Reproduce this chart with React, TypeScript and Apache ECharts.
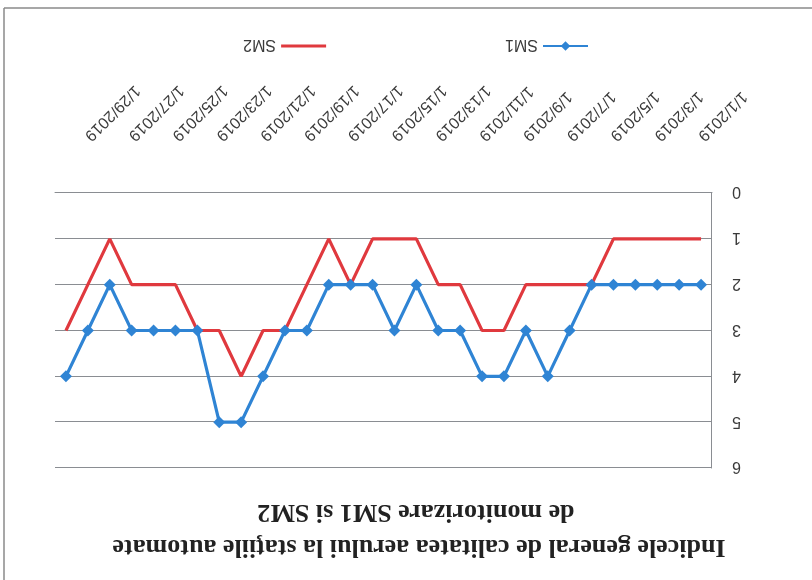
import React, { useEffect, useRef } from "react";
import * as echarts from "echarts";

const dates = [
  "1/1/2019", "1/2/2019", "1/3/2019", "1/4/2019", "1/5/2019", "1/6/2019",
  "1/7/2019", "1/8/2019", "1/9/2019", "1/10/2019", "1/11/2019", "1/12/2019",
  "1/13/2019", "1/14/2019", "1/15/2019", "1/16/2019", "1/17/2019", "1/18/2019",
  "1/19/2019", "1/20/2019", "1/21/2019", "1/22/2019", "1/23/2019", "1/24/2019",
  "1/25/2019", "1/26/2019", "1/27/2019", "1/28/2019", "1/29/2019", "1/30/2019",
];

const sm1 = [2, 2, 2, 2, 2, 2, 3, 4, 3, 4, 4, 3, 3, 2, 3, 2, 2, 2, 3, 3, 4, 5, 5, 3, 3, 3, 3, 2, 3, 4];
const sm2 = [1, 1, 1, 1, 1, 2, 2, 2, 2, 3, 3, 2, 2, 1, 1, 1, 2, 1, 2, 3, 3, 4, 3, 3, 2, 2, 2, 1, 2, 3];

const titleLine1 = "Indicele general de calitatea aerului la staţiile automate";
const titleLine2 = "de monitorizare SM1 si SM2";

export default function App() {
  const ref = useRef<HTMLDivElement>(null);

  useEffect(() => {
    if (!ref.current) return;
    const chart = echarts.init(ref.current, null, { renderer: "svg" });
    const labelColor = "#3a3a3a";
    const gridColor = "#8a8d92";
    chart.setOption({
      animation: false,
      backgroundColor: "#ffffff",
      grid: { left: 100, right: 55, top: 112, bottom: 193 },
      legend: {
        left: 218,
        top: 521,
        itemWidth: 45,
        itemHeight: 12,
        itemGap: 179,
        textStyle: { fontFamily: "Liberation Sans", fontSize: 16, color: labelColor },
        data: [
          { name: "SM1" },
          { name: "SM2", icon: "path://M0,0H45V3H0Z" },
        ],
      },
      xAxis: {
        type: "category",
        data: dates,
        boundaryGap: true,
        axisLine: { show: true, lineStyle: { color: gridColor, width: 1 } },
        axisTick: { show: false },
        axisLabel: {
          interval: 1,
          rotate: 45,
          margin: 54,
          fontFamily: "Liberation Sans",
          fontSize: 16,
          color: labelColor,
        },
      },
      yAxis: {
        type: "value",
        min: 0,
        max: 6,
        interval: 1,
        axisLine: { show: true, lineStyle: { color: gridColor, width: 1 } },
        axisTick: { show: false },
        splitLine: { show: true, lineStyle: { color: gridColor, width: 1 } },
        axisLabel: {
          margin: 20,
          fontFamily: "Liberation Sans",
          fontSize: 16,
          color: labelColor,
        },
      },
      series: [
        {
          name: "SM1",
          type: "line",
          data: sm1,
          symbol: "diamond",
          symbolSize: 12,
          showAllSymbol: true,
          lineStyle: { color: "#2f84d4", width: 3.2 },
          itemStyle: { color: "#2f84d4" },
        },
        {
          name: "SM2",
          type: "line",
          data: sm2,
          symbol: "none",
          lineStyle: { color: "#e0393e", width: 3.2 },
          itemStyle: { color: "#e0393e" },
        },
      ],
      graphic: [
        {
          type: "text",
          x: 393,
          y: 31,
          style: {
            text: titleLine1,
            textAlign: "center",
            textVerticalAlign: "middle",
            font: 'bold 26px "Liberation Serif"',
            fill: "#222222",
          },
        },
        {
          type: "text",
          x: 396,
          y: 66,
          style: {
            text: titleLine2,
            textAlign: "center",
            textVerticalAlign: "middle",
            font: 'bold 26px "Liberation Serif"',
            fill: "#222222",
          },
        },
        {
          type: "line",
          shape: { x1: 0, y1: 572, x2: 808, y2: 572 },
          style: { stroke: "#8a8a8a", lineWidth: 1.5 },
        },
        {
          type: "line",
          shape: { x1: 808, y1: 0, x2: 808, y2: 572 },
          style: { stroke: "#8a8a8a", lineWidth: 1.5 },
        },
      ],
    });
    return () => chart.dispose();
  }, []);

  return (
    <div
      ref={ref}
      style={{
        position: "fixed",
        left: 0,
        top: 0,
        width: 812,
        height: 580,
        transform: "rotate(180deg)",
        background: "#ffffff",
      }}
    />
  );
}
